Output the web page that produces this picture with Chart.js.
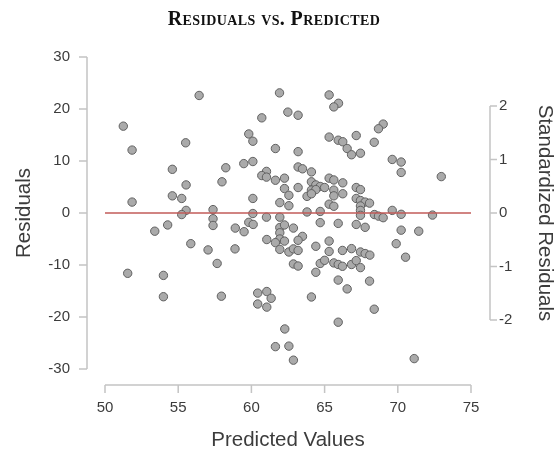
<!DOCTYPE html>
<html lang="en">
<head>
    <meta charset="UTF-8">
    <title>Residuals vs. Predicted</title>
    <style>
        html, body {
            margin: 0;
            padding: 0;
            background: #ffffff;
        }
        #wrap {
            width: 559px;
            height: 450px;
            position: relative;
        }
    </style>
</head>
<body>
    <div id="wrap"><canvas id="residualChart"></canvas></div>

    <script src="https://cdn.jsdelivr.net/npm/chart.js"></script>

    <script>
        // Data
        const predicted = [
            56.43, 61.92, 51.25, 62.49, 60.71, 51.85, 55.51, 59.82, 60.10, 61.64,
            54.60, 58.25, 59.48, 60.10, 61.03, 60.71, 61.03, 61.64, 62.26, 57.99,
            55.54, 62.26, 62.56, 54.60, 55.24, 60.10, 51.85, 61.94, 62.56, 55.54,
            55.24, 57.38, 60.10, 57.38, 61.03, 61.94, 57.38, 54.28, 53.40, 58.90,
            59.50, 59.82, 60.12, 61.94, 62.26, 61.94, 61.94, 62.26, 61.05, 61.64,
            61.94, 62.56, 55.86, 57.04, 58.88, 57.66, 51.55, 53.99, 53.99, 57.95,
            60.43, 61.05, 61.35, 60.43, 61.05, 62.28, 61.64, 62.56, 65.31, 65.95,
            65.63, 63.19, 69.00, 68.68, 67.16, 65.31, 65.93, 66.24, 68.39, 66.54,
            67.45, 66.84, 63.19, 69.62, 70.23, 70.23, 72.97, 63.19, 63.49, 64.10,
            65.31, 65.63, 64.10, 66.24, 63.19, 64.40, 64.70, 65.00, 64.10, 64.40,
            65.63, 67.16, 67.45, 63.80, 64.10, 65.63, 66.24, 67.16, 67.45, 67.77,
            68.07, 67.45, 67.45, 65.31, 65.63, 63.80, 64.70, 69.62, 70.23, 72.37,
            68.40, 68.68, 69.00, 67.45, 62.87, 63.49, 63.19, 64.70, 65.93, 67.16,
            67.77, 70.23, 71.43, 65.31, 64.40, 69.89, 62.87, 63.19, 65.31, 66.22,
            66.84, 67.45, 67.77, 68.09, 70.53, 62.87, 63.19, 64.70, 65.00, 65.63,
            65.93, 66.22, 66.84, 67.16, 67.45, 64.40, 65.93, 66.54, 68.07, 64.10,
            68.39, 65.93, 62.87, 71.12
        ];
        const residuals = [
            22.6, 23.1, 16.7, 19.4, 18.3, 12.1, 13.5, 15.2, 13.8, 12.4,
            8.4, 8.7, 9.5, 9.9, 8.0, 7.2, 6.9, 6.3, 6.7, 6.0,
            5.4, 4.7, 3.4, 3.3, 2.8, 2.8, 2.1, 2.0, 1.4, 0.5,
            -0.3, 0.65, -0.1, -1.1, -0.8, -0.8, -2.4, -2.3, -3.5, -2.9,
            -3.6, -1.8, -2.2, -2.8, -2.3, -3.8, -5.0, -5.4, -5.1, -5.7,
            -7.0, -7.5, -5.9, -7.1, -6.9, -9.7, -11.6, -12.0, -16.1, -16.0,
            -15.4, -15.1, -16.4, -17.5, -18.1, -22.3, -25.7, -25.6, 22.7, 21.1,
            20.4, 18.8, 17.1, 16.2, 14.9, 14.6, 14.0, 13.7, 13.6, 12.4,
            11.5, 11.2, 11.8, 10.3, 9.8, 7.8, 7.0, 8.85, 8.5, 7.9,
            6.7, 6.35, 6.0, 5.8, 4.9, 5.4, 5.1, 4.9, 4.4, 4.5,
            4.4, 4.9, 4.5, 3.2, 3.7, 3.3, 3.7, 2.8, 2.4, 2.1,
            1.9, 1.35, 0.5, 1.7, 1.3, 0.2, 0.3, 0.5, -0.25, -0.4,
            -0.3, -0.6, -0.9, -0.45, -2.9, -4.5, -5.25, -1.85, -2.0, -2.2,
            -2.75, -3.3, -3.5, -5.4, -6.4, -5.9, -6.9, -7.2, -7.4, -7.2,
            -6.85, -7.5, -7.8, -8.1, -8.5, -9.8, -10.2, -9.7, -9.1, -9.6,
            -9.9, -10.25, -9.9, -9.15, -10.5, -11.4, -12.9, -14.6, -13.1, -16.15,
            -18.5, -21.0, -28.3, -28.0
        ];
        const zeroLineX = [50, 75];
        const zeroLineY = [0, 0];
        const xTicks = [50, 55, 60, 65, 70, 75];
        const yTicks = [30, 20, 10, 0, -10, -20, -30];
        const stdTicks = [2, 1, 0, -1, -2];
        const residualSd = 10.3; // residual units per standardized unit

        const sansFont = "'Liberation Sans', Arial, sans-serif";
        const axisGray = '#c4c4c4';
        const labelColor = '#3c3c3c';

        // R-style detached axes, drawn from the chart's own scales
        const rAxesPlugin = {
            id: 'rAxes',
            beforeDatasetsDraw(chart) {
                const ctx = chart.ctx;
                const xs = chart.scales.x;
                const ys = chart.scales.y;
                const ss = chart.scales.yStd;
                const leftX = 87;
                const bottomY = 385;
                const rightX = 490;

                ctx.save();
                ctx.strokeStyle = axisGray;
                ctx.lineWidth = 1.5;
                ctx.fillStyle = labelColor;
                ctx.font = '15px ' + sansFont;

                // left axis
                ctx.beginPath();
                ctx.moveTo(leftX, ys.getPixelForValue(yTicks[0]));
                ctx.lineTo(leftX, ys.getPixelForValue(yTicks[yTicks.length - 1]));
                yTicks.forEach(v => {
                    const py = ys.getPixelForValue(v);
                    ctx.moveTo(leftX - 8, py);
                    ctx.lineTo(leftX, py);
                });
                ctx.stroke();
                ctx.textAlign = 'right';
                ctx.textBaseline = 'middle';
                yTicks.forEach(v => ctx.fillText(String(v), 70, ys.getPixelForValue(v)));

                // bottom axis
                ctx.beginPath();
                ctx.moveTo(xs.getPixelForValue(xTicks[0]), bottomY);
                ctx.lineTo(xs.getPixelForValue(xTicks[xTicks.length - 1]), bottomY);
                xTicks.forEach(v => {
                    const px = xs.getPixelForValue(v);
                    ctx.moveTo(px, bottomY);
                    ctx.lineTo(px, bottomY + 8);
                });
                ctx.stroke();
                ctx.textAlign = 'center';
                xTicks.forEach(v => ctx.fillText(String(v), xs.getPixelForValue(v), 408));

                // right (standardized) axis
                ctx.beginPath();
                ctx.moveTo(rightX, ss.getPixelForValue(stdTicks[0]));
                ctx.lineTo(rightX, ss.getPixelForValue(stdTicks[stdTicks.length - 1]));
                stdTicks.forEach(v => {
                    const py = ss.getPixelForValue(v);
                    ctx.moveTo(rightX, py);
                    ctx.lineTo(rightX + 7, py);
                });
                ctx.stroke();
                ctx.textAlign = 'left';
                stdTicks.forEach(v => ctx.fillText(String(v), 499, ss.getPixelForValue(v)));

                // axis titles
                ctx.font = '20.5px ' + sansFont;
                ctx.textAlign = 'center';
                ctx.fillText('Predicted Values', 288, 440);

                ctx.save();
                ctx.translate(24, 213);
                ctx.rotate(-Math.PI / 2);
                ctx.fillText('Residuals', 0, 0);
                ctx.restore();

                ctx.save();
                ctx.translate(545, 213);
                ctx.rotate(Math.PI / 2);
                ctx.fillText('Standardized Residuals', 0, 0);
                ctx.restore();

                // main title in small caps
                ctx.fillStyle = '#111';
                ctx.font = "small-caps bold 20px 'Liberation Serif', 'Times New Roman', serif";
                ctx.letterSpacing = '0.4px';
                ctx.textBaseline = 'alphabetic';
                ctx.fillText('Residuals vs. Predicted', 274, 25);

                ctx.restore();
            }
        };

        const ctx = document.getElementById('residualChart').getContext('2d');
        new Chart(ctx, {
            type: 'scatter',
            data: {
                datasets: [
                    {
                        type: 'line',
                        label: 'Zero',
                        data: zeroLineX.map((x, i) => ({ x: x, y: zeroLineY[i] })),
                        borderColor: '#c25b58',
                        borderWidth: 1.6,
                        pointRadius: 0,
                        fill: false,
                        order: 0
                    },
                    {
                        label: 'Residuals',
                        data: predicted.map((x, i) => ({ x: x, y: residuals[i] })),
                        backgroundColor: '#aaaaaa',
                        borderColor: '#606060',
                        borderWidth: 1,
                        pointRadius: 4.2,
                        pointHoverRadius: 4.2,
                        order: 1
                    }
                ]
            },
            options: {
                responsive: true,
                maintainAspectRatio: false,
                animation: false,
                clip: false,
                layout: {
                    padding: { left: 105, right: 88, top: 57, bottom: 81 }
                },
                plugins: {
                    legend: { display: false },
                    tooltip: { enabled: false },
                    title: { display: false }
                },
                scales: {
                    x: { type: 'linear', min: 50, max: 75, display: false },
                    y: { type: 'linear', min: -30, max: 30, display: false },
                    yStd: {
                        type: 'linear',
                        position: 'right',
                        min: -30 / residualSd,
                        max: 30 / residualSd,
                        display: false
                    }
                }
            },
            plugins: [rAxesPlugin]
        });
    </script>
</body>
</html>
